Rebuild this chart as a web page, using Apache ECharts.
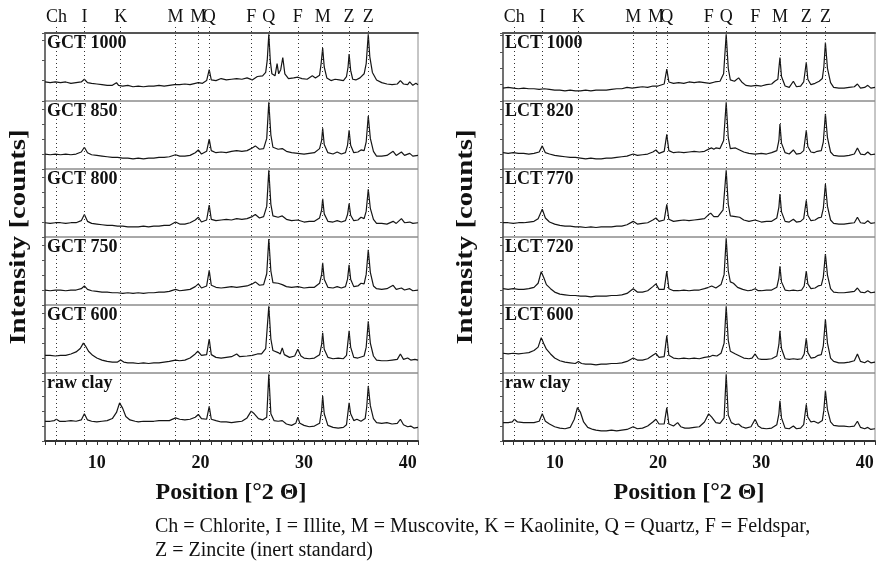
<!DOCTYPE html>
<html><head><meta charset="utf-8">
<script src="https://cdn.jsdelivr.net/npm/echarts@6/dist/echarts.min.js"></script>
<style>html,body{margin:0;padding:0;background:#fff}#c{width:880px;height:566px}</style>
</head><body><div id="c"></div>
<script>
// ---------- data ----------
const xMin = 5, xMax = 41;
const xTickLabels = [10, 20, 30, 40];
const phaseNames = ['Ch','I','K','M','M','Q','F','Q','F','M','Z','Z'];
const phasePositions = [6.1, 8.8, 12.3, 17.6, 19.8, 20.85, 24.9, 26.6, 29.4, 31.8, 34.35, 36.2];
const leftLabels = ['GCT 1000','GCT 850','GCT 800','GCT 750','GCT 600','raw clay'];
const rightLabels = ['LCT 1000','LCT 820','LCT 770','LCT 720','LCT 600','raw clay'];
const yLabel = 'Intensity [counts]';
const xLabel = 'Position [°2 Θ]';
const captionLines = ['Ch = Chlorite, I = Illite, M = Muscovite, K = Kaolinite, Q = Quartz, F = Feldspar,','Z = Zincite (inert standard)'];

const g1000 = [[5,28],[5.5,27],[6,28],[6.5,27],[7,28],[7.5,26],[8,27],[8.5,28],[8.8,32],[9.1,27],[9.5,26],[10,25],[10.5,24],[11,23],[11.5,23],[11.9,27],[12.1,23],[12.5,22],[13,23],[13.5,21],[14,22],[14.5,21],[15,22],[15.5,22],[16,23],[16.5,22],[17,23],[17.5,24],[18,24],[18.5,25],[19,24],[19.5,26],[19.8,27],[20.2,26],[20.6,30],[20.85,46],[21.05,31],[21.5,30],[22,33],[22.5,31],[23,32],[23.5,33],[24,32],[24.5,34],[25,31],[25.5,36],[26,37],[26.3,42],[26.45,60],[26.6,98],[26.75,58],[26.9,40],[27.2,37],[27.4,55],[27.55,40],[27.75,46],[27.95,64],[28.15,40],[28.5,33],[29,34],[29.4,35],[29.8,33],[30.3,32],[30.8,37],[31.1,34],[31.5,38],[31.65,55],[31.8,78],[31.95,50],[32.2,34],[32.6,30],[33,32],[33.4,31],[33.8,30],[34.1,36],[34.25,50],[34.35,69],[34.5,45],[34.7,32],[35,31],[35.4,34],[35.8,40],[36.0,55],[36.2,98],[36.35,65],[36.6,42],[37,31],[37.5,27],[38,25],[38.5,24],[39,25],[39.3,30],[39.6,25],[40,24],[40.2,28],[40.5,23],[40.8,26],[41,24]];
const g850 = [[5,22],[5.5,21],[6,22],[6.5,21],[7,22],[7.5,21],[8,22],[8.5,25],[8.8,32],[9.1,24],[9.5,21],[10,20],[10.5,19],[11,18],[11.5,17],[12,17],[12.5,16],[13,16],[13.5,15],[14,16],[14.5,15],[15,16],[15.5,16],[16,17],[16.5,17],[17,18],[17.6,21],[18,19],[18.5,19],[19,20],[19.5,24],[19.8,28],[20.1,22],[20.6,26],[20.85,44],[21.05,27],[21.5,24],[22,25],[22.5,24],[23,26],[23.5,27],[24,26],[24.5,27],[25,31],[25.3,34],[25.7,29],[26.1,30],[26.4,45],[26.6,98],[26.8,50],[27,32],[27.5,29],[27.9,30],[28.3,26],[28.8,24],[29.4,23],[30,22],[30.5,23],[31,24],[31.5,30],[31.7,42],[31.8,60],[31.95,36],[32.3,24],[32.8,22],[33.2,25],[33.6,22],[34,24],[34.2,35],[34.35,57],[34.5,35],[34.8,24],[35.2,25],[35.5,28],[35.8,27],[36.0,40],[36.2,78],[36.4,45],[36.7,26],[37,19],[37.5,19],[38,20],[38.6,26],[38.9,20],[39.4,25],[39.7,20],[40.2,23],[40.5,19],[41,20]];
const g800 = [[5,21],[5.5,20],[6,21],[6.5,21],[7,20],[7.5,21],[8,21],[8.5,24],[8.8,33],[9.1,23],[9.5,20],[10,19],[10.5,18],[11,17],[11.5,17],[12,16],[12.5,16],[13,15],[13.5,15],[14,15],[14.5,16],[15,15],[15.5,16],[16,16],[16.5,17],[17,17],[17.6,22],[18,19],[18.5,19],[19,21],[19.5,25],[19.8,29],[20.1,22],[20.6,25],[20.85,47],[21.05,26],[21.5,24],[22,25],[22.5,26],[23,25],[23.5,27],[24,26],[24.5,27],[25,30],[25.3,33],[25.7,28],[26.1,30],[26.4,45],[26.6,98],[26.8,48],[27,31],[27.5,29],[27.9,31],[28.3,26],[28.8,24],[29.4,25],[30,22],[30.5,23],[31,23],[31.5,28],[31.7,40],[31.8,56],[31.95,34],[32.3,23],[32.8,22],[33.2,24],[33.6,22],[34,24],[34.2,33],[34.35,49],[34.5,32],[34.8,24],[35.2,25],[35.5,29],[35.8,27],[36.0,38],[36.2,70],[36.4,42],[36.7,26],[37,20],[37.5,20],[38,19],[38.6,23],[38.9,20],[39.4,27],[39.7,21],[40.2,22],[40.5,20],[41,21]];
const g750 = [[5,22],[5.5,21],[6,22],[6.5,22],[7,21],[7.5,22],[8,22],[8.5,24],[8.8,28],[9.1,23],[9.5,21],[10,20],[10.5,19],[11,19],[11.5,18],[12,18],[12.5,17],[13,18],[13.5,17],[14,18],[14.5,17],[15,18],[15.5,18],[16,19],[16.5,19],[17,20],[17.6,23],[18,21],[18.5,22],[19,23],[19.5,27],[19.8,31],[20.1,25],[20.6,28],[20.85,51],[21.05,29],[21.5,26],[22,25],[22.5,26],[23,27],[23.5,26],[24,27],[24.5,28],[25,31],[25.3,34],[25.7,29],[26.1,30],[26.4,46],[26.6,97],[26.8,50],[27,33],[27.5,32],[27.9,30],[28.3,27],[28.8,26],[29.4,27],[30,25],[30.5,26],[31,26],[31.5,32],[31.7,45],[31.8,62],[31.95,38],[32.3,26],[32.8,25],[33.2,27],[33.6,25],[34,27],[34.2,38],[34.35,59],[34.5,38],[34.8,27],[35.2,28],[35.5,32],[35.8,31],[36.0,45],[36.2,81],[36.4,48],[36.7,28],[37,24],[37.5,23],[38,24],[38.6,29],[38.9,23],[39.4,25],[39.7,22],[40.2,24],[40.5,21],[41,22]];
const g600 = [[5,26],[5.5,26],[6,25],[6.5,26],[7,26],[7.5,28],[8,31],[8.4,36],[8.7,44],[8.9,40],[9.2,32],[9.6,26],[10,22],[10.5,19],[11,17],[11.5,16],[12,16],[12.3,19],[12.6,16],[13,15],[13.5,15],[14,14],[14.5,15],[15,14],[15.5,15],[16,15],[16.5,16],[17,17],[17.6,19],[18,18],[18.5,19],[19,22],[19.5,28],[19.75,32],[20.1,26],[20.6,27],[20.85,50],[21.05,27],[21.5,23],[22,22],[22.5,23],[23,24],[23.5,28],[23.8,24],[24.5,25],[25,26],[25.5,28],[25.9,28],[26.3,36],[26.6,98],[26.8,50],[27,33],[27.5,30],[27.7,28],[27.9,37],[28.1,27],[28.6,23],[29.1,25],[29.4,35],[29.7,25],[30,22],[30.5,21],[31,22],[31.5,27],[31.7,42],[31.8,59],[31.95,35],[32.3,23],[32.8,21],[33.3,22],[33.8,21],[34.1,26],[34.35,62],[34.5,38],[34.8,23],[35.2,22],[35.8,25],[36.0,38],[36.2,76],[36.4,44],[36.7,25],[37,19],[37.5,18],[38,18],[38.5,19],[39,20],[39.3,28],[39.6,20],[40,22],[40.3,19],[40.7,20],[41,19]];
const gRaw = [[5,29],[5.5,29],[5.9,30],[6.1,32],[6.4,29],[7,29],[7.5,30],[8,29],[8.5,31],[8.8,40],[9.1,31],[9.5,29],[10,28],[10.5,29],[11,30],[11.5,33],[11.9,42],[12.2,56],[12.5,48],[12.8,36],[13.2,31],[13.7,29],[14,28],[14.5,29],[15,29],[15.5,29],[16,30],[16.5,30],[17,30],[17.6,34],[18,32],[18.5,31],[19,32],[19.5,35],[19.8,39],[20.1,33],[20.6,32],[20.85,51],[21.05,32],[21.5,30],[22,28],[22.5,28],[23,27],[23.5,28],[24,29],[24.5,34],[24.9,44],[25.2,40],[25.6,33],[26,31],[26.4,35],[26.6,98],[26.8,40],[27.1,30],[27.5,29],[27.9,30],[28.3,25],[28.8,23],[29.2,26],[29.4,35],[29.6,26],[30,23],[30.5,21],[31,22],[31.5,26],[31.7,45],[31.8,66],[31.95,40],[32.3,23],[32.8,20],[33.3,19],[33.8,20],[34.1,24],[34.35,56],[34.5,40],[34.8,30],[35.1,32],[35.5,29],[35.9,33],[36.05,50],[36.2,81],[36.4,52],[36.7,33],[37,27],[37.5,26],[38,27],[38.5,25],[39,26],[39.3,32],[39.6,24],[40,21],[40.3,22],[40.6,19],[41,20]];

const l1000 = [[5,19],[5.5,20],[6,19],[6.5,18],[7,19],[7.5,18],[8,18],[8.5,17],[9,18],[9.5,17],[10,16],[10.5,16],[11,15],[11.5,16],[12,15],[12.5,15],[13,16],[13.5,15],[14,16],[14.5,16],[15,16],[15.5,17],[16,18],[16.5,18],[17,20],[17.5,19],[18,20],[18.5,21],[19,20],[19.5,22],[20,22],[20.6,25],[20.85,47],[21.05,28],[21.5,26],[22,27],[22.5,26],[23,28],[23.5,27],[24,28],[24.5,27],[25,26],[25.5,28],[26,29],[26.35,40],[26.6,98],[26.8,48],[27,31],[27.4,29],[27.8,34],[28.1,28],[28.5,23],[29,22],[29.5,23],[30,22],[30.5,24],[31,25],[31.3,29],[31.6,32],[31.8,64],[31.95,36],[32.3,22],[32.7,20],[33.1,29],[33.4,21],[33.8,22],[34.1,28],[34.35,57],[34.5,32],[34.8,24],[35.2,26],[35.6,29],[35.9,33],[36.05,50],[36.2,86],[36.4,48],[36.7,27],[37,20],[37.5,19],[38,19],[38.5,20],[39,21],[39.3,25],[39.6,19],[40,20],[40.3,23],[40.6,19],[41,20]];
const l820 = [[5,24],[5.5,23],[6,24],[6.5,23],[7,23],[7.5,22],[8,23],[8.5,25],[8.8,34],[9.1,24],[9.5,22],[10,20],[10.5,19],[11,18],[11.5,17],[12,17],[12.5,16],[13,15],[13.5,16],[14,15],[14.5,15],[15,16],[15.5,16],[16,17],[16.5,18],[17,19],[17.6,22],[18,20],[18.5,21],[19,22],[19.5,25],[19.8,28],[20.1,23],[20.6,26],[20.85,51],[21.05,27],[21.5,24],[22,25],[22.5,24],[23,25],[23.5,26],[24,25],[24.5,26],[25,30],[25.2,31],[25.4,29],[25.6,31],[26,30],[26.35,42],[26.6,98],[26.8,46],[27,30],[27.5,31],[27.9,28],[28.3,25],[28.8,23],[29.4,22],[30,23],[30.5,22],[31,24],[31.5,27],[31.7,42],[31.8,66],[31.95,38],[32.3,24],[32.7,22],[33.1,28],[33.4,22],[33.8,23],[34.1,27],[34.35,57],[34.5,33],[34.8,25],[35.1,24],[35.4,26],[35.8,27],[36.0,40],[36.2,81],[36.4,46],[36.7,25],[37,20],[37.5,19],[38,19],[38.5,20],[39,22],[39.3,31],[39.6,22],[40,21],[40.3,25],[40.6,21],[41,22]];
const l770 = [[5,21],[5.5,21],[6,20],[6.5,21],[7,21],[7.5,22],[8,23],[8.4,27],[8.8,41],[9.1,28],[9.5,22],[10,19],[10.5,17],[11,16],[11.5,16],[12,15],[12.5,15],[13,14],[13.5,15],[14,14],[14.5,15],[15,15],[15.5,15],[16,16],[16.5,16],[17,18],[17.6,23],[18,19],[18.5,20],[19,21],[19.5,25],[19.8,28],[20.1,23],[20.6,25],[20.85,48],[21.05,26],[21.5,23],[22,24],[22.5,25],[23,24],[23.5,25],[24,26],[24.5,27],[24.9,33],[25.1,35],[25.4,30],[25.8,30],[26.3,40],[26.6,98],[26.8,48],[27,31],[27.5,30],[27.9,29],[28.3,25],[28.8,23],[29.4,25],[30,22],[30.5,23],[31,23],[31.5,28],[31.7,44],[31.8,63],[31.95,37],[32.3,23],[32.7,22],[33.1,26],[33.4,22],[33.8,23],[34.1,27],[34.35,54],[34.5,32],[34.8,24],[35.2,25],[35.5,28],[35.8,29],[36.0,42],[36.2,78],[36.4,45],[36.7,25],[37,20],[37.5,19],[38,19],[38.5,20],[39,21],[39.3,29],[39.6,21],[40,20],[40.3,24],[40.6,20],[41,21]];
const l720 = [[5,24],[5.5,23],[6,24],[6.5,23],[7,23],[7.5,24],[8,26],[8.4,32],[8.7,49],[8.95,40],[9.2,30],[9.6,24],[10,19],[10.5,16],[11,15],[11.5,14],[12,14],[12.5,13],[13,13],[13.5,12],[14,13],[14.5,13],[15,13],[15.5,14],[16,14],[16.5,15],[17,17],[17.6,24],[18,19],[18.5,19],[19,21],[19.5,27],[19.8,31],[20.1,23],[20.6,23],[20.85,50],[21.05,24],[21.5,21],[22,21],[22.5,22],[23,21],[23.5,22],[24,22],[24.5,24],[24.9,26],[25.2,28],[25.6,25],[26.1,30],[26.4,45],[26.6,98],[26.8,50],[27,34],[27.3,32],[27.7,26],[28.2,23],[28.7,21],[29.1,22],[29.4,24],[29.7,21],[30,21],[30.5,22],[31,22],[31.5,26],[31.7,40],[31.8,57],[31.95,34],[32.3,22],[32.7,21],[33.1,22],[33.5,21],[33.9,22],[34.15,28],[34.35,50],[34.5,31],[34.8,24],[35.2,25],[35.5,28],[35.8,29],[36.0,41],[36.2,75],[36.4,44],[36.7,24],[37,19],[37.5,18],[38,18],[38.5,19],[39,20],[39.3,25],[39.6,19],[40,18],[40.3,21],[40.6,18],[41,19]];
const l600 = [[5,29],[5.5,28],[6,29],[6.5,28],[7,29],[7.5,30],[8,33],[8.4,38],[8.7,52],[8.95,43],[9.2,35],[9.6,28],[10,22],[10.5,18],[11,16],[11.5,15],[12,14],[12.3,17],[12.6,14],[13,13],[13.5,13],[14,12],[14.5,13],[15,13],[15.5,14],[16,14],[16.5,15],[17,17],[17.6,22],[18,19],[18.5,19],[19,21],[19.5,26],[19.8,29],[20.1,23],[20.6,24],[20.85,55],[21.05,26],[21.5,22],[22,21],[22.5,22],[23,21],[23.5,22],[24,21],[24.5,23],[25,24],[25.3,26],[25.7,25],[26.1,29],[26.4,44],[26.6,98],[26.8,48],[27,32],[27.5,28],[27.9,25],[28.3,22],[28.8,21],[29.1,22],[29.4,28],[29.7,21],[30,20],[30.5,20],[31,21],[31.5,25],[31.7,42],[31.8,62],[31.95,36],[32.3,21],[32.7,20],[33.1,21],[33.5,20],[33.9,21],[34.15,28],[34.35,51],[34.5,30],[34.8,22],[35.2,23],[35.5,26],[35.8,27],[36.0,40],[36.2,79],[36.4,44],[36.7,22],[37,17],[37.5,15],[38,15],[38.5,16],[39,18],[39.3,28],[39.6,17],[40,15],[40.3,18],[40.6,15],[41,16]];
const lRaw = [[5,27],[5.5,27],[5.9,28],[6.1,32],[6.4,28],[7,27],[7.5,27],[8,27],[8.5,29],[8.8,40],[9.1,29],[9.5,25],[10,21],[10.5,19],[11,18],[11.5,20],[11.9,32],[12.2,49],[12.5,42],[12.8,28],[13.2,20],[13.7,17],[14,16],[14.5,15],[15,15],[15.5,16],[16,15],[16.5,16],[17,17],[17.6,21],[18,18],[18.5,19],[19,22],[19.5,28],[19.8,32],[20.1,25],[20.6,25],[20.85,49],[21.05,25],[21.5,22],[21.9,27],[22.2,21],[22.6,19],[23,19],[23.5,20],[24,21],[24.5,28],[24.9,40],[25.2,35],[25.6,27],[26,26],[26.4,34],[26.6,98],[26.8,38],[27.1,27],[27.5,24],[27.8,25],[28.1,21],[28.5,19],[29,21],[29.4,32],[29.7,22],[30,19],[30.5,18],[31,19],[31.5,24],[31.7,40],[31.8,59],[31.95,34],[32.3,19],[32.7,18],[33.1,22],[33.4,18],[33.8,19],[34.1,24],[34.35,54],[34.5,35],[34.8,28],[35.1,29],[35.5,26],[35.9,30],[36.05,45],[36.2,74],[36.4,46],[36.7,28],[37,23],[37.5,22],[38,22],[38.5,21],[39,22],[39.3,29],[39.6,20],[40,18],[40.3,20],[40.6,17],[41,18]];

// ---------- layout ----------
const SERIF = '"Liberation Serif","Times New Roman",serif';
const TOP = 33, SUBH = 68;
const panels = [
  {left: 45, width: 373, series: [g1000, g850, g800, g750, g600, gRaw], labels: leftLabels, yInt: [30,22,22,22,22,22]},
  {left: 503, width: 372, series: [l1000, l820, l770, l720, l600, lRaw], labels: rightLabels, yInt: [24,22,22,22,22,22]}
];

const grid = [], xAxis = [], yAxis = [], series = [], title = [];
panels.forEach(p => {
  p.series.forEach((d, i) => {
    const gi = grid.length;
    grid.push({left: p.left, top: TOP + i*SUBH, width: p.width, height: SUBH, show: true, borderColor: '#8c8c8c', borderWidth: 1, backgroundColor: 'transparent'});
    const isBottom = i === p.series.length - 1;
    xAxis.push({
      type: 'value', gridIndex: gi, min: xMin, max: xMax, interval: 1, show: isBottom,
      axisLine: {show: true, onZero: false, lineStyle: {color: '#333', width: 2}},
      axisTick: {show: true, inside: false, length: 4, lineStyle: {color: '#333', width: 1}},
      axisLabel: {show: true, margin: 13, color: '#111', fontFamily: SERIF, fontWeight: 'bold', fontSize: 18,
        formatter: v => xTickLabels.indexOf(v) >= 0 ? String(v) : ''},
      splitLine: {show: false}
    });
    const xi0 = xAxis.length - 1;
    if (i === 0) {
      xAxis.push({type: 'value', gridIndex: gi, position: 'top', min: xMin, max: xMax, show: true,
        axisLine: {show: true, onZero: false, lineStyle: {color: '#555', width: 2}},
        axisTick: {show: false}, axisLabel: {show: false}, splitLine: {show: false}});
    }
    yAxis.push({
      type: 'value', gridIndex: gi, min: 0, max: 100, interval: p.yInt[i],
      axisLine: {show: true, onZero: false, lineStyle: {color: '#555', width: 1.5}},
      axisTick: {show: true, inside: false, length: 3, lineStyle: {color: '#555', width: 1}},
      axisLabel: {show: false}, splitLine: {show: false}
    });
    series.push({type: 'line', xAxisIndex: xi0, yAxisIndex: yAxis.length - 1, data: d,
      showSymbol: false, symbol: 'none', lineStyle: {color: '#151515', width: 1.2}, z: 3, silent: true});
    title.push({text: p.labels[i], left: p.left + 2, top: TOP + i*SUBH + 1, padding: 0,
      textStyle: {fontFamily: SERIF, fontWeight: 'bold', fontSize: 18, color: '#111'}});
  });
  // overlay grid for the dotted reference lines and phase letters
  const gi = grid.length;
  grid.push({left: p.left, top: 26, width: p.width, height: 440 - 26, show: false});
  xAxis.push({type: 'value', gridIndex: gi, min: xMin, max: xMax, show: false});
  yAxis.push({type: 'value', gridIndex: gi, min: 0, max: 1, show: false});
  series.push({type: 'line', xAxisIndex: xAxis.length - 1, yAxisIndex: yAxis.length - 1, data: [], z: 2,
    markLine: {silent: true, symbol: ['none', 'none'],
      lineStyle: {type: [1, 3], color: '#333', width: 1},
      label: {show: true, position: 'end', formatter: '{b}', distance: 0, fontFamily: SERIF, fontSize: 18, color: '#111'},
      data: phasePositions.map((x, k) => ({xAxis: x, name: phaseNames[k]}))}});
});

const titleFont = {fontFamily: SERIF, fontWeight: 'bold', fontSize: 24, fill: '#111', align: 'center', verticalAlign: 'middle'};
const graphic = [
  {type: 'text', x: 19, y: 237, rotation: Math.PI/2, scaleX: 1.2, style: Object.assign({text: yLabel}, titleFont)},
  {type: 'text', x: 466, y: 237, rotation: Math.PI/2, scaleX: 1.2, style: Object.assign({text: yLabel}, titleFont)},
  {type: 'text', x: 231, y: 493, style: Object.assign({text: xLabel}, titleFont)},
  {type: 'text', x: 689, y: 493, style: Object.assign({text: xLabel}, titleFont)},
  {type: 'text', x: 155, y: 527, style: {text: captionLines[0], fontFamily: SERIF, fontSize: 20, fill: '#111', align: 'left', verticalAlign: 'middle'}},
  {type: 'text', x: 155, y: 551, style: {text: captionLines[1], fontFamily: SERIF, fontSize: 20, fill: '#111', align: 'left', verticalAlign: 'middle'}}
];

const chart = echarts.init(document.getElementById('c'), null, {renderer: 'canvas'});
chart.setOption({animation: false, backgroundColor: '#fff', title, grid, xAxis, yAxis, series, graphic});
</script></body></html>
